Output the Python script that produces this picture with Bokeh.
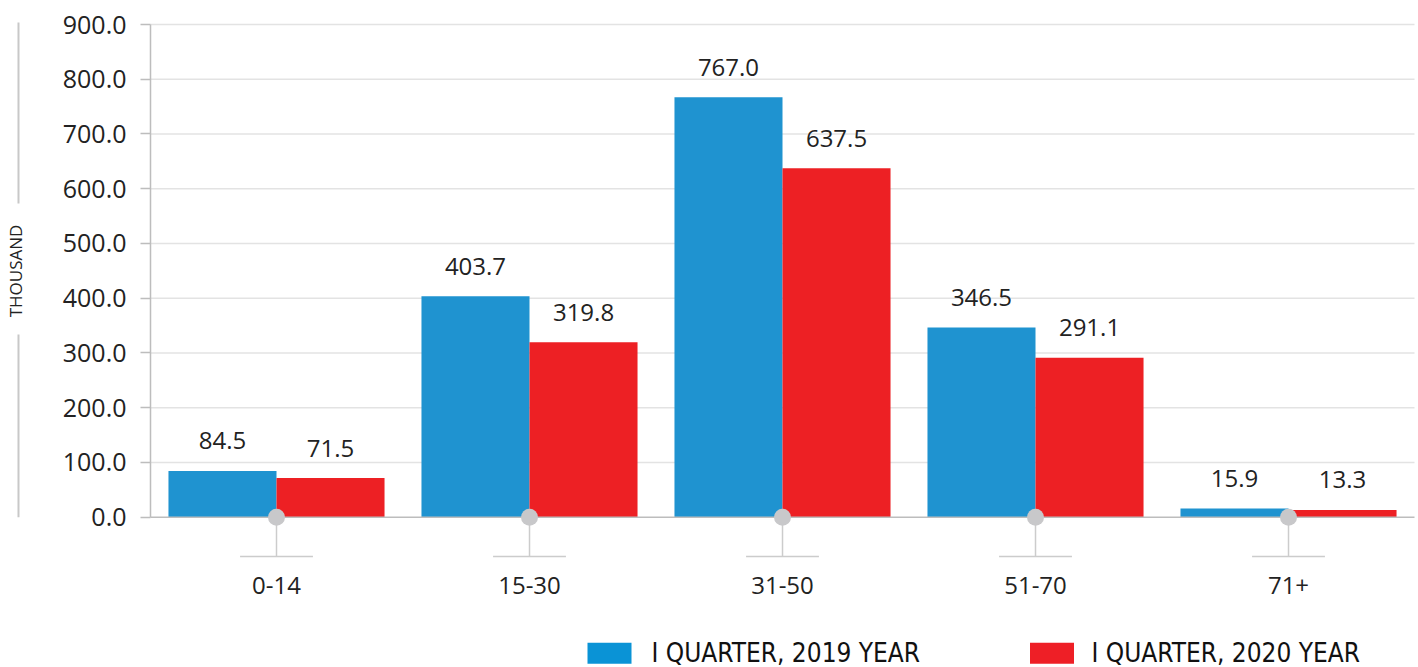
from bokeh.plotting import figure
from bokeh.models import Range1d, LinearAxis, FixedTicker, NumeralTickFormatter, ColumnDataSource
from bokeh.core.properties import value
from bokeh.embed import file_html
from bokeh.resources import INLINE

# ---------------- data ----------------
age_groups = ["0-14", "15-30", "31-50", "51-70", "71+"]
q1_2019 = [84.5, 403.7, 767.0, 346.5, 15.9]
q1_2020 = [71.5, 319.8, 637.5, 291.1, 13.3]
series_names = ["I QUARTER, 2019 YEAR", "I QUARTER, 2020 YEAR"]
y_ticks = [0, 100, 200, 300, 400, 500, 600, 700, 800, 900]
y_title = "THOUSAND"

# ---------------- styles ----------------
BLUE = "#1f93d0"
RED = "#ed2024"
LEG_BLUE = "#0a93d6"
LEG_RED = "#ee1f26"
TXT = "#222222"
FONT = "Open Sans"
LEG_FONT = "Liberation Sans Narrow, DejaVu Sans Condensed, Roboto Condensed, Roboto"

BAR_W = 0.427
X0, X1 = -1.0909, 4.5138
Y0, Y1 = -274.55, 943.85
AXIS_X = -0.498
GRID_END = 4.498

idx = list(range(len(age_groups)))

p = figure(width=1418, height=667, x_range=Range1d(X0, X1), y_range=Range1d(Y0, Y1),
           toolbar_location=None, output_backend="svg",
           x_axis_location=None, y_axis_location=None,
           min_border=0, min_border_left=0, min_border_right=0,
           min_border_top=0, min_border_bottom=0)
p.outline_line_color = None
p.xgrid.visible = False
p.ygrid.visible = False
p.background_fill_color = "white"
p.border_fill_color = "white"

# gridlines (own segments so they start at the axis)
grid_src = ColumnDataSource(dict(y=[t for t in y_ticks if t > 0]))
p.segment(x0=AXIS_X, x1=GRID_END, y0="y", y1="y", source=grid_src,
          line_color="#e3e3e3", line_width=1.5)

# bars
src = ColumnDataSource(dict(
    x19=[i - BAR_W / 2 for i in idx], x20=[i + BAR_W / 2 for i in idx],
    v19=q1_2019, v20=q1_2020,
    l19=[f"{v:.1f}" for v in q1_2019], l20=[f"{v:.1f}" for v in q1_2020],
))
p.vbar(x="x19", top="v19", bottom=0, width=BAR_W, source=src,
       fill_color=BLUE, line_color=None)
p.vbar(x="x20", top="v20", bottom=0, width=BAR_W, source=src,
       fill_color=RED, line_color=None)

# baseline
p.segment(x0=AXIS_X, x1=GRID_END, y0=0, y1=0, line_color="#bdbdbd", line_width=1.5)

# value labels
for xc, yc, lc in (("x19", "v19", "l19"), ("x20", "v20", "l20")):
    p.text(x=xc, y=yc, text=lc, source=src, y_offset=-30,
           text_align="center", text_baseline="middle",
           text_font=value(FONT), text_font_size="24px", text_color=TXT)

# category decorations below the axis
STEM = -71.8
HALF = 0.144
dec = ColumnDataSource(dict(x=idx, xl=[i - HALF for i in idx], xr=[i + HALF for i in idx]))
p.segment(x0="x", x1="x", y0=0, y1=STEM, source=dec, line_color="#cccccc", line_width=1.5)
p.segment(x0="xl", x1="xr", y0=STEM, y1=STEM, source=dec, line_color="#cccccc", line_width=1.5)
p.scatter(x="x", y=0, source=dec, size=17, marker="circle",
          fill_color="#c8c8ca", line_color=None)

# decorative lines around the y title
TX = -1.0198
p.segment(x0=[TX, TX], x1=[TX, TX], y0=[903.7, 333.8], y1=[573.0, 0.0],
          line_color="#c8c8c8", line_width=2)

# y axis
yaxis = LinearAxis(fixed_location=AXIS_X, bounds=(0, 900),
                   ticker=FixedTicker(ticks=y_ticks),
                   formatter=NumeralTickFormatter(format="0.0"),
                   axis_label=y_title)
yaxis.axis_line_color = "#bdbdbd"
yaxis.axis_line_width = 1.5
yaxis.major_tick_line_color = "#bdbdbd"
yaxis.major_tick_line_width = 1.5
yaxis.major_tick_out = 10
yaxis.major_tick_in = 0
yaxis.minor_tick_line_color = None
yaxis.major_label_standoff = 14
yaxis.major_label_text_font = FONT
yaxis.major_label_text_font_size = "25px"
yaxis.major_label_text_color = TXT
yaxis.axis_label_text_font = FONT
yaxis.axis_label_text_font_size = "17px"
yaxis.axis_label_text_font_style = "normal"
yaxis.axis_label_text_color = TXT
yaxis.axis_label_standoff = 33
p.add_layout(yaxis, "left")

# x axis (category labels)
xaxis = LinearAxis(fixed_location=-110.1,
                   ticker=FixedTicker(ticks=idx),
                   major_label_overrides={i: g for i, g in zip(idx, age_groups)})
xaxis.axis_line_color = None
xaxis.major_tick_line_color = None
xaxis.minor_tick_line_color = None
xaxis.major_tick_out = 0
xaxis.major_tick_in = 0
xaxis.major_label_standoff = 0
xaxis.major_label_text_font = FONT
xaxis.major_label_text_font_size = "24px"
xaxis.major_label_text_color = TXT
p.add_layout(xaxis, "below")

# legend (drawn as glyphs)
LEG_Y = -248.7
leg = ColumnDataSource(dict(
    bx=[1.3162, 3.0652], tx=[1.4822, 3.2213],
    c=[LEG_BLUE, LEG_RED], name=series_names,
))
p.rect(x="bx", y=LEG_Y, width=44, height=21, width_units="screen", height_units="screen",
       source=leg, fill_color="c", line_color=None)
p.text(x="tx", y=LEG_Y, text="name", source=leg, text_align="left", text_baseline="middle",
       text_font=value(LEG_FONT), text_font_size="26px", text_color="#111111")

open("out.html", "w").write(file_html(p, INLINE))
